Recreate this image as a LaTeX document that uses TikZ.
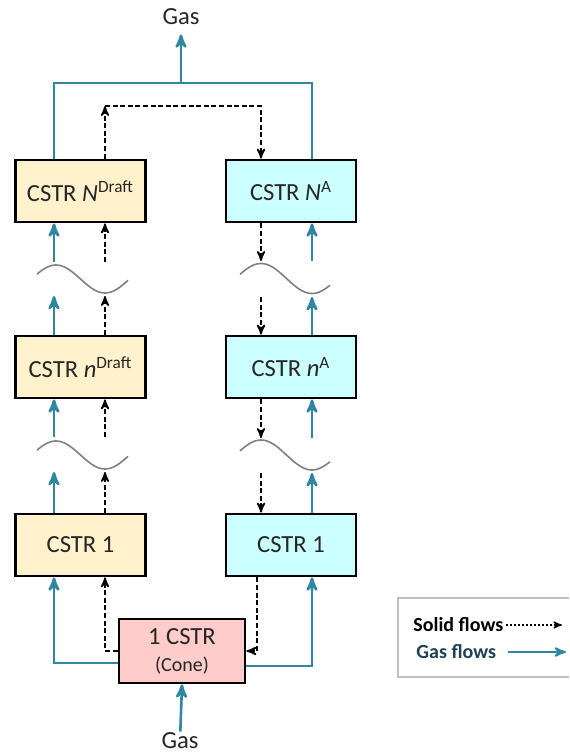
\documentclass[tikz,border=0pt]{standalone}
\usepackage{fontspec}
\setmainfont{Carlito}
\usepackage{tikz}
\usetikzlibrary{arrows}
\usepackage{xcolor}
\definecolor{draftfill}{RGB}{255,242,204}
\definecolor{annfill}{RGB}{204,255,255}
\definecolor{conefill}{RGB}{255,204,204}
\definecolor{gasblue}{RGB}{49,134,164}
\definecolor{legteal}{RGB}{28,66,84}
\definecolor{inkgray}{RGB}{38,38,38}

\begin{document}
\begin{tikzpicture}[x=0.5pt,y=-0.5pt,>=stealth',
  draft/.style={rectangle,fill=draftfill,draw,line width=1.4pt,text=inkgray,
    font=\fontsize{12.3}{14}\selectfont,minimum height=31pt,minimum width=65pt,inner sep=0pt},
  annulus/.style={rectangle,fill=annfill,draw,line width=1.4pt,text=inkgray,
    font=\fontsize{12.3}{14}\selectfont,minimum height=31pt,minimum width=65pt,inner sep=0pt},
  cone/.style={rectangle,fill=conefill,draw,line width=1.4pt,align=center,text=inkgray,
    font=\fontsize{12.3}{13.5}\selectfont,minimum height=32pt,minimum width=63pt,inner sep=0pt},
  gasline/.style={color=gasblue,line width=1.3pt},
  gas/.style={gasline,->},
  solid flow/.style={->,color=black,line width=0.8pt,dash pattern=on 2.5pt off 1.3pt},
  wave/.style={draw=gray,line width=0.8pt},
  label/.style={rectangle,font=\fontsize{12.3}{14}\selectfont,text=inkgray,inner sep=0.5pt},
  legend/.style={rectangle,font=\fontsize{10}{12}\selectfont\bfseries,inner sep=1pt}]

  \useasboundingbox (0,0) rectangle (569,755);

  \node[draft] (ND) at (80.5,191) {CSTR \textit{N}\textsuperscript{Draft}};
  \node[draft] (nD) [node distance=88pt, below of=ND] {CSTR \textit{n}\textsuperscript{Draft}};
  \node[draft] (D1) [node distance=89pt, below of=nD] {CSTR 1};
  \node[annulus] (NA) [node distance=105.25pt, right of=ND] {CSTR \textit{N}\textsuperscript{A}};
  \node[annulus] (nA) [node distance=105.25pt, right of=nD] {CSTR \textit{n}\textsuperscript{A}};
  \node[annulus] (A1) [node distance=105.25pt, right of=D1] {CSTR 1};
  \node[cone] (cone) at (182,651) {1 CSTR\\{\fontsize{10}{12}\selectfont (Cone)}};
  \node[label] (gasT) at (181,17) {Gas};
  \node[label] (gasB) at (180,741) {Gas};

  % columns of the flows
  \coordinate (gl) at (54,0);
  \coordinate (sl) at (105,0);
  \coordinate (sr) at (261,0);
  \coordinate (srb) at (257,0);
  \coordinate (gr) at (312,0);
  \coordinate (gtop) at (181,83);
  \coordinate (stop) at (183,106);

  % gaps round the waves
  \coordinate (gapL1a) at (0,262);
  \coordinate (gapL1b) at (0,296);
  \coordinate (gapL2a) at (0,437);
  \coordinate (gapL2b) at (0,472);
  \coordinate (gapR1a) at (0,261);
  \coordinate (gapR1b) at (0,297);
  \coordinate (gapR2a) at (0,438);
  \coordinate (gapR2b) at (0,473);

  \draw[wave] plot[domain=-19:72,samples=40,smooth] ({56+\x},{279-14*cos(\x*180/49)});
  \draw[wave] plot[domain=-19:72,samples=40,smooth] ({56+\x},{455-14*cos(\x*180/49)});
  \draw[wave] plot[domain=-21:69,samples=40,smooth] ({261+\x},{278.5-15*cos(\x*180/51)});
  \draw[wave] plot[domain=-21:69,samples=40,smooth] ({261+\x},{455-15*cos(\x*180/51)});

  \path
  (gl |- gapL1a) edge[gas] (ND.south -| gl)
  (sl |- gapL1a) edge[solid flow] (ND.south -| sl)
  (nD.north -| gl) edge[gas] (gl |- gapL1b)
  (nD.north -| sl) edge[solid flow] (sl |- gapL1b)
  (gl |- gapL2a) edge[gas] (nD.south -| gl)
  (sl |- gapL2a) edge[solid flow] (nD.south -| sl)
  (D1.north -| gl) edge[gas] (gl |- gapL2b)
  (D1.north -| sl) edge[solid flow] (sl |- gapL2b)
  ;

  \path
  (NA.south -| sr) edge[solid flow] (sr |- gapR1a)
  (gr |- gapR1a) edge[gas] (NA.south -| gr)
  (sr |- gapR1b) edge[solid flow] (nA.north -| sr)
  (nA.north -| gr) edge[gas] (gr |- gapR1b)
  (nA.south -| sr) edge[solid flow] (sr |- gapR2a)
  (gr |- gapR2a) edge[gas] (nA.south -| gr)
  (sr |- gapR2b) edge[solid flow] (A1.north -| sr)
  (A1.north -| gr) edge[gas] (gr |- gapR2b)
  ;

  % top
  \draw[gasline] (ND.north -| gl) |- (gtop) -| (NA.north -| gr);
  \draw[gas,shorten >=4pt] (gtop) -- (gasT);
  \draw[solid flow] (ND.north -| sl) -- (sl |- stop);
  \draw[solid flow] (sl |- stop) -| (NA.north -| sr);

  % bottom
  \draw[gas] ([yshift=-6pt]cone.west) -| (D1.south -| gl);
  \draw[gas] ([yshift=-7.5pt]cone.east) -| (A1.south -| gr);
  \draw[solid flow] (cone.west) -| (D1.south -| sl);
  \draw[solid flow] (A1.south -| srb) |- (cone.east);
  \draw[gas] (gasB) -- (cone.south);

  % legend
  \draw[gray!50,line width=0.8pt] (569,598) -- (398,598) -- (398,677) -- (569,677);
  \node[legend,anchor=west] (legS) at (411,625) {Solid flows};
  \node[legend,anchor=west,text=legteal] (legG) at (414,652) {Gas flows};
  \coordinate (legSend) at (562,625);
  \coordinate (legGend) at (566,652);
  \draw[solid flow,line width=0.6pt,dash pattern=on 1pt off 1pt] (legS.east) -- (legSend);
  \draw[gas,line width=1pt] ([xshift=5pt]legG.east) -- (legGend);
\end{tikzpicture}
\end{document}
